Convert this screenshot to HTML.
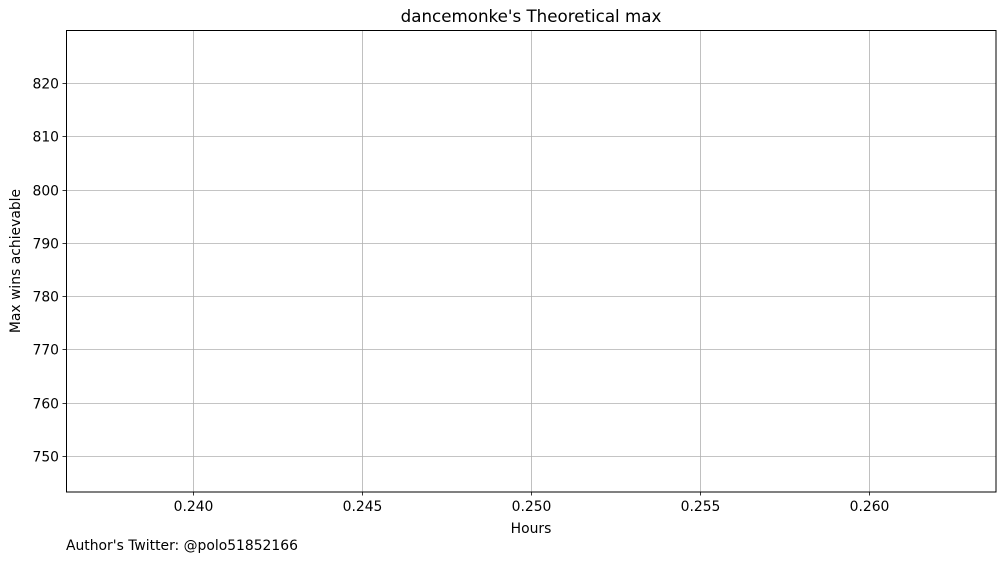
<!DOCTYPE html>
<html><head><meta charset="utf-8"><style>
body{margin:0;background:#fff;font-family:"Liberation Sans","DejaVu Sans",sans-serif;}
svg text{font-family:"DejaVu Sans","Liberation Sans",sans-serif;fill:#000;}
</style></head><body>
<svg id="chart" width="1005" height="562" xmlns="http://www.w3.org/2000/svg">
<rect width="1005" height="562" fill="#fff"/>
<g id="grid"></g>
<g id="ticks"></g>
<rect x="66.5" y="30.5" width="929.5" height="461.5" fill="none" stroke="#000" stroke-width="1"/>
<text x="531" y="22" text-anchor="middle" font-size="16.7">dancemonke's Theoretical max</text>
<text x="531" y="533" text-anchor="middle" font-size="13.9">Hours</text>
<text transform="translate(20,261) rotate(-90)" text-anchor="middle" font-size="13.9">Max wins achievable</text>
<text x="66" y="550" font-size="13.9">Author's Twitter: @polo51852166</text>
</svg>
<script>
const xTicks=[0.240,0.245,0.250,0.255,0.260];
const xTickLabels=["0.240","0.245","0.250","0.255","0.260"];
const yTicks=[750,760,770,780,790,800,810,820];
const yTickLabels=["750","760","770","780","790","800","810","820"];
const xDomain=[0.23624,0.26376];
const yDomain=[743.25,829.95];
const L=66,R=996,T=30,B=492;
const xs=v=>L+(v-xDomain[0])/(xDomain[1]-xDomain[0])*(R-L);
const ys=v=>B-(v-yDomain[0])/(yDomain[1]-yDomain[0])*(B-T);
const NS="http://www.w3.org/2000/svg";
const grid=document.getElementById('grid'),ticks=document.getElementById('ticks');
function mk(tag,attrs,parent){const e=document.createElementNS(NS,tag);for(const k in attrs)e.setAttribute(k,attrs[k]);parent.appendChild(e);return e;}
xTicks.forEach((v,i)=>{const x=Math.round(xs(v))+0.5;
 const g=mk('line',{x1:x,x2:x,y1:T,y2:B,stroke:'#b0b0b0','stroke-width':0.8},grid);
 
 
 const t=mk('line',{x1:x,x2:x,y1:B,y2:B+3.5,stroke:'#000','stroke-width':0.8},ticks);
 
 
 const l=mk('text',{x:x,y:B+19,'text-anchor':'middle','font-size':13.9},ticks);l.textContent=xTickLabels[i];
 
 
});
yTicks.forEach((v,i)=>{const y=Math.round(ys(v))+0.5;
 const g=mk('line',{x1:L,x2:R,y1:y,y2:y,stroke:'#b0b0b0','stroke-width':0.8},grid);
 
 
 const t=mk('line',{x1:L-3.5,x2:L,y1:y,y2:y,stroke:'#000','stroke-width':0.8},ticks);
 
 
 const l=mk('text',{x:L-7,y:y+5,'text-anchor':'end','font-size':13.9},ticks);l.textContent=yTickLabels[i];
 
 
});
</script>
</body></html>
